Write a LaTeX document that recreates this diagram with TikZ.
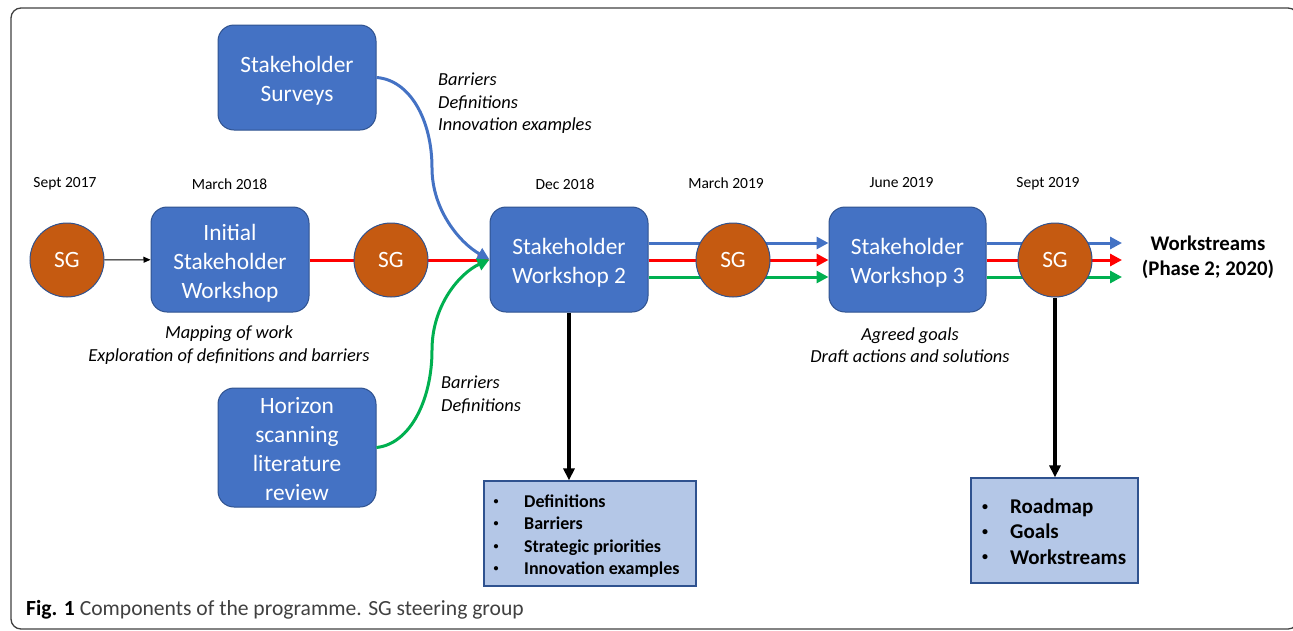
\documentclass[tikz,border=0pt]{standalone}
\usepackage{fontspec}
\setmainfont{Carlito}
\usetikzlibrary{arrows.meta}
\definecolor{boxblue}{HTML}{4472C4}
\definecolor{edgeblue}{HTML}{2F528F}
\definecolor{sgfill}{HTML}{C55A11}
\definecolor{lightbox}{HTML}{B4C7E7}
\definecolor{flowred}{HTML}{FF0000}
\definecolor{flowgreen}{HTML}{00B050}
\definecolor{framegray}{HTML}{404040}
\newcommand{\smallbul}[1]{\makebox[#1][l]{\hspace{3pt}\raisebox{2.8pt}{\fontsize{10}{10}\selectfont\textbullet}}}
\newcommand{\midbul}[1]{\makebox[#1][l]{\hspace{3pt}\raisebox{3.2pt}{\fontsize{12}{12}\selectfont\textbullet}}}
\begin{document}
\begin{tikzpicture}[x=1pt,y=-1pt,
  bigfont/.style={font=\fontsize{23.4}{29}\selectfont},
  wsbox/.style={draw=edgeblue, line width=1pt, fill=boxblue, rounded corners=16pt, inner sep=0pt, minimum width=158pt, minimum height=105pt},
  boxtext/.style={text=white, align=center, inner sep=0pt, bigfont},
  sgnode/.style={circle, draw=edgeblue, line width=1pt, fill=sgfill, text=white, minimum size=74pt, inner sep=0pt, bigfont},
  outbox/.style={draw=edgeblue, line width=1.2pt, fill=lightbox, inner sep=0pt},
  datelbl/.style={font=\fontsize{15.5}{19}\selectfont, inner sep=0pt},
  notelbl/.style={font=\fontsize{18.4}{22.6}\selectfont\itshape, inner sep=0pt},
  flow/.style={line width=3pt, -{Triangle[length=12pt,width=12pt]}},
  downarrow/.style={line width=3.5pt, -{Triangle[length=12pt,width=11pt]}},
]
\useasboundingbox (0,0) rectangle (1293,630);
\draw[framegray, line width=1.3pt, rounded corners=10pt] (11,8) rectangle (1298,629);

% boxes
\node[wsbox] (surveys) at (297,77.5) {};
\node[wsbox, minimum height=119pt] (horizon) at (297,447.5) {};
\node[wsbox] (iws) at (230,259.5) {};
\node[wsbox] (ws2) at (569,259.5) {};
\node[wsbox, minimum width=157pt] (ws3) at (907.5,259.5) {};
\node[boxtext] (tsurveys) at ([yshift=-3pt]surveys.center) {Stakeholder\\Surveys};
\node[boxtext] (thorizon) at ([yshift=-2pt]horizon.center) {Horizon\\scanning\\literature\\review};
\node[boxtext] (tiws) at ([yshift=-3.5pt]iws.center) {Initial\\Stakeholder\\Workshop};
\node[boxtext] (tws2) at ([yshift=-3pt]ws2.center) {Stakeholder\\Workshop 2};
\node[boxtext] (tws3) at ([yshift=-3pt]ws3.center) {Stakeholder\\Workshop 3};
\node[sgnode] (sg1) at (67,260) {SG};

\node[outbox, minimum width=212pt, minimum height=105pt] (out1) at (590,533.5) {};
\node[outbox, minimum width=167pt, minimum height=105pt] (out2) at (1054.5,530.5) {};

% rows
\coordinate (rb) at (0,243);
\coordinate (rr) at (0,260);
\coordinate (rg) at (0,277);
\coordinate (endb) at (1122,243);
\coordinate (endr) at (1122,260);
\coordinate (endg) at (1122,277);

% connectors
\draw[line width=1pt, -{Triangle[length=7pt,width=6pt]}] (sg1) -- (iws);
\draw[flow, flowred] (iws.east |- rr) -- (ws2.west |- rr);
\draw[flow, boxblue] (ws2.east |- rb) -- (ws3.west |- rb);
\draw[flow, flowred] (ws2.east |- rr) -- (ws3.west |- rr);
\draw[flow, flowgreen] (ws2.east |- rg) -- (ws3.west |- rg);
\draw[flow, boxblue] (ws3.east |- rb) -- (endb);
\draw[flow, flowred] (ws3.east |- rr) -- (endr);
\draw[flow, flowgreen] (ws3.east |- rg) -- (endg);
\draw[flow, boxblue] (surveys.east) .. controls (410,80) and (432,120) .. (432,168) .. controls (432,210) and (460,243) .. (ws2.west);
\draw[flow, flowgreen] (horizon.east) .. controls (410,444) and (432,400) .. (432,350) .. controls (432,305) and (460,273) .. (ws2.west);

\node[sgnode] (sg2) at (391,260) {SG};
\node[sgnode] (sg3) at (733,260) {SG};
\node[sgnode] (sg4) at (1055,260) {SG};

\draw[downarrow] (ws2.south) -- (ws2.south |- out1.north);
\draw[downarrow] (sg4.south) -- (sg4.south |- out2.north);

% dates
\node[datelbl] (d1) at (65,184) {Sept 2017};
\node[datelbl] (d2) at (229.5,184) {March 2018};
\node[datelbl] (d3) at (565,184) {Dec 2018};
\node[datelbl] (d4) at (726,183) {March 2019};
\node[datelbl] (d5) at (901.5,183) {June 2019};
\node[datelbl] (d6) at (1048,184) {Sept 2019};

% notes
\node[notelbl, anchor=west, align=left] (n1) at (438,103.5) {Barriers\\Definitions\\Innovation examples};
\node[notelbl, align=center] (n2) at (229,345) {Mapping of work\\Exploration of definitions and barriers};
\node[notelbl, anchor=west, align=left] (n3) at (441,394.5) {Barriers\\Definitions};
\node[notelbl, align=center] (n4) at (910,345) {Agreed goals\\Draft actions and solutions};

\node[font=\fontsize{20.8}{25}\selectfont\bfseries, align=center, inner sep=0pt] (wsout) at (1208,257) {Workstreams\\(Phase 2; 2020)};

% lists
\node[anchor=west, align=left, inner sep=0pt, font=\fontsize{18}{22.3}\selectfont\bfseries] (list1) at (490.5,536)
  {\smallbul{33.5pt}Definitions\\\smallbul{33.5pt}Barriers\\\smallbul{33.5pt}Strategic priorities\\\smallbul{33.5pt}Innovation examples};
\node[anchor=west, align=left, inner sep=0pt, font=\fontsize{21}{25.3}\selectfont\bfseries] (list2) at (979,531.5)
  {\midbul{31pt}Roadmap\\\midbul{31pt}Goals\\\midbul{31pt}Workstreams};

% caption
\node[anchor=base west, inner sep=0pt, font=\fontsize{21.6}{26}\selectfont] (cap) at (26,615) {\textbf{Fig. 1} \textcolor{framegray}{Components of the programme. SG steering group}};
\end{tikzpicture}
\end{document}
